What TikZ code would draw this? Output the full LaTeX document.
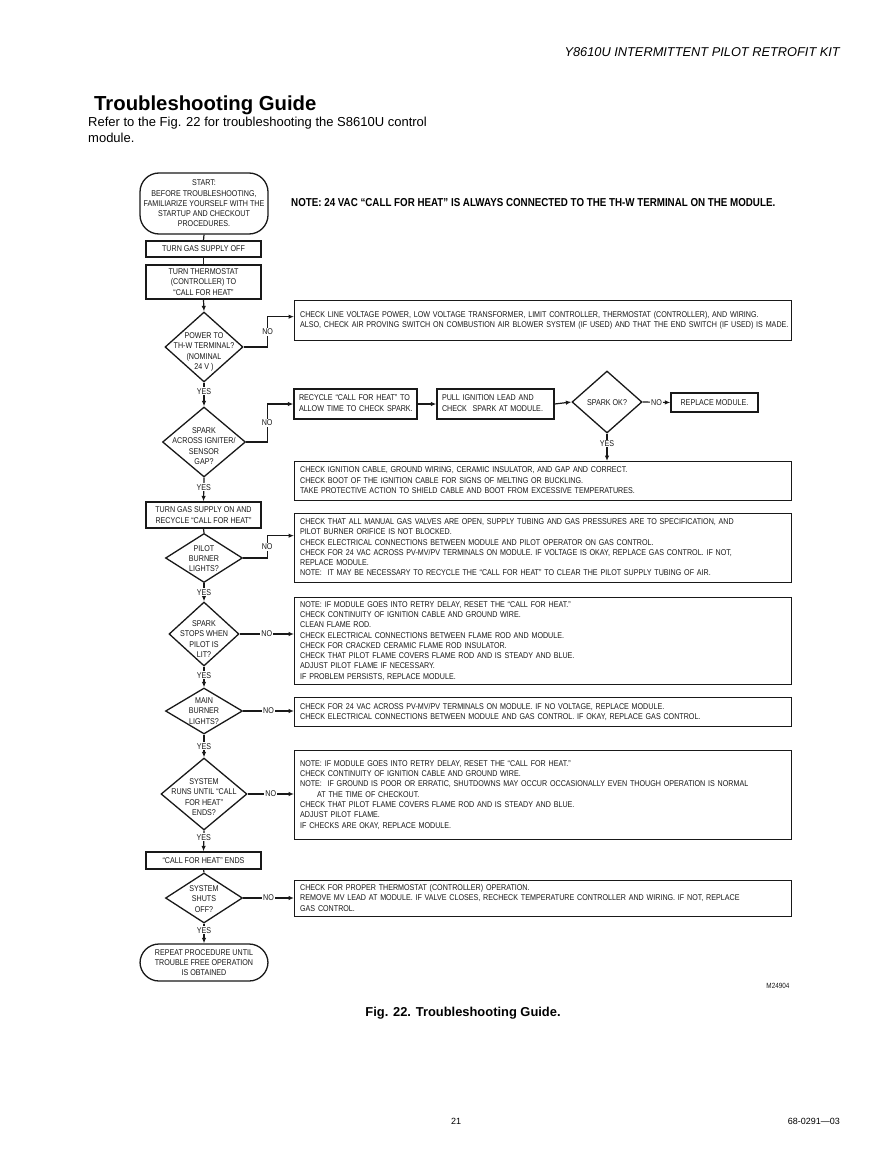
\documentclass[tikz,border=0pt]{standalone}
\usepackage{fontspec}
\setmainfont{Liberation Sans}
\newfontfamily\cond[FakeStretch=0.85]{Liberation Sans}
\usetikzlibrary{shapes.geometric,arrows.meta}
\newcommand\Lines[1]{\begin{tabular}{@{}l@{}}#1\end{tabular}}
\begin{document}
\begin{tikzpicture}[x=1pt,y=-1pt,
  fc/.style={font=\cond\fontsize{8.4}{10.3}\selectfont, text=black!90},
  sbox/.style={draw=black!90, line width=1.3pt, fc, align=center, inner sep=0pt, minimum width=115pt},
  bbox/.style={draw=black!90, line width=1.3pt, fc, text width=486pt, inner xsep=5.5pt, inner ysep=0pt, align=left, anchor=north west},
  dia/.style={draw=black!90, diamond, line width=1.3pt, inner sep=0pt},
  dtext/.style={fc, align=center, inner sep=0pt},
  term/.style={draw=black!90, rounded corners=19pt, line width=1.3pt, fc, align=center, inner sep=0pt, minimum width=128pt},
  arr/.style={draw=black!90, line width=1.2pt, -{Latex[length=5.5pt,width=4.5pt]}},
  ln/.style={draw=black!90, line width=1.2pt},
  lab/.style={fc, fill=white, inner sep=1pt}]
\useasboundingbox[fill=white] (0,0) rectangle (892,1155);

% page texts
\node[anchor=east, inner sep=0pt, font=\itshape\fontsize{12.8}{15}\selectfont] (hdr) at (840,52) {Y8610U INTERMITTENT PILOT RETROFIT KIT};
\node[anchor=west, inner sep=0pt, font=\bfseries\fontsize{20.3}{24}\selectfont] (title) at (94,105) {Troubleshooting Guide};
\node[anchor=north west, align=left, inner sep=0pt, font=\fontsize{13}{16}\selectfont] (intro) at (88,117) {Refer to the Fig. 22 for troubleshooting the S8610U control\\module.};
\node[anchor=west, inner sep=0pt, font=\cond\bfseries\fontsize{11.5}{13}\selectfont] (note) at (291,203) {NOTE: 24 VAC “CALL FOR HEAT” IS ALWAYS CONNECTED TO THE TH-W TERMINAL ON THE MODULE.};

% left column
\node[term, minimum height=61pt] (start) at (204,203.5) {START:\\BEFORE TROUBLESHOOTING,\\FAMILIARIZE YOURSELF WITH THE\\STARTUP AND CHECKOUT\\PROCEDURES.};
\node[sbox, minimum height=16pt] (gasoff) at (203.5,249) {TURN GAS SUPPLY OFF};
\node[sbox, minimum height=34pt] (thermo) at (203.5,282) {TURN THERMOSTAT\\(CONTROLLER) TO\\“CALL FOR HEAT”};

\node[dia, minimum width=78pt, minimum height=70pt] (d1) at (204,347) {};
\node[dtext] (d1t) at (204,352) {POWER TO\\TH-W TERMINAL?\\(NOMINAL\\24 V )};
\node[dia, minimum width=83pt, minimum height=70pt] (d2) at (204,442) {};
\node[dtext] (d2t) at (204,446) {SPARK\\ACROSS IGNITER/\\SENSOR\\GAP?};
\node[sbox, minimum height=26pt] (gason) at (203.5,515) {TURN GAS SUPPLY ON AND\\RECYCLE “CALL FOR HEAT”};
\node[dia, minimum width=77pt, minimum height=49pt] (d4) at (204,558) {};
\node[dtext] (d4t) at (204,558.5) {PILOT\\BURNER\\LIGHTS?};
\node[dia, minimum width=70pt, minimum height=64pt] (d5) at (204,634) {};
\node[dtext] (d5t) at (204,639) {SPARK\\STOPS WHEN\\PILOT IS\\LIT?};
\node[dia, minimum width=77pt, minimum height=46pt] (d6) at (204,711) {};
\node[dtext] (d6t) at (204,711) {MAIN\\BURNER\\LIGHTS?};
\node[dia, minimum width=86pt, minimum height=72pt] (d7) at (204,794) {};
\node[dtext] (d7t) at (204,797) {SYSTEM\\RUNS UNTIL “CALL\\FOR HEAT”\\ENDS?};
\node[sbox, minimum height=17pt] (ends) at (203.5,860.5) {“CALL FOR HEAT” ENDS};
\node[dia, minimum width=77pt, minimum height=50pt] (d8) at (204,898) {};
\node[dtext] (d8t) at (204,899) {SYSTEM\\SHUTS\\OFF?};
\node[term, minimum height=37pt] (repeat) at (204,962.5) {REPEAT PROCEDURE UNTIL\\TROUBLE FREE OPERATION\\IS OBTAINED};

% right boxes
\node[bbox, minimum height=40pt] (b1) at (294,300) {\Lines{CHECK LINE VOLTAGE POWER, LOW VOLTAGE TRANSFORMER, LIMIT CONTROLLER, THERMOSTAT (CONTROLLER), AND WIRING.\\ALSO, CHECK AIR PROVING SWITCH ON COMBUSTION AIR BLOWER SYSTEM (IF USED) AND THAT THE END SWITCH (IF USED) IS MADE.}};
\node[sbox, text width=113pt, align=left, inner xsep=5pt, minimum width=123pt, minimum height=30pt] (recycle) at (355.5,404) {\Lines{RECYCLE “CALL FOR HEAT” TO\\ALLOW TIME TO CHECK SPARK.}};
\node[sbox, text width=107pt, align=left, inner xsep=5pt, minimum width=117pt, minimum height=30pt] (pull) at (495.5,404) {\Lines{PULL IGNITION LEAD AND\\CHECK \ SPARK AT MODULE.}};
\node[dia, minimum width=70pt, minimum height=62pt] (d3) at (607,402) {};
\node[dtext] (d3t) at (607,403) {SPARK OK?};
\node[sbox, minimum width=87pt, minimum height=19pt] (replace) at (714.5,402.5) {REPLACE MODULE.};
\node[bbox, minimum height=39pt] (b2) at (294,461) {\Lines{CHECK IGNITION CABLE, GROUND WIRING, CERAMIC INSULATOR, AND GAP AND CORRECT.\\CHECK BOOT OF THE IGNITION CABLE FOR SIGNS OF MELTING OR BUCKLING.\\TAKE PROTECTIVE ACTION TO SHIELD CABLE AND BOOT FROM EXCESSIVE TEMPERATURES.}};
\node[bbox, minimum height=69pt] (b3) at (294,513) {\Lines{CHECK THAT ALL MANUAL GAS VALVES ARE OPEN, SUPPLY TUBING AND GAS PRESSURES ARE TO SPECIFICATION, AND\\PILOT BURNER ORIFICE IS NOT BLOCKED.\\CHECK ELECTRICAL CONNECTIONS BETWEEN MODULE AND PILOT OPERATOR ON GAS CONTROL.\\CHECK FOR 24 VAC ACROSS PV-MV/PV TERMINALS ON MODULE. IF VOLTAGE IS OKAY, REPLACE GAS CONTROL. IF NOT,\\REPLACE MODULE.\\NOTE: \ IT MAY BE NECESSARY TO RECYCLE THE “CALL FOR HEAT” TO CLEAR THE PILOT SUPPLY TUBING OF AIR.}};
\node[bbox, minimum height=87pt] (b4) at (294,597) {\Lines{NOTE: IF MODULE GOES INTO RETRY DELAY, RESET THE “CALL FOR HEAT.”\\CHECK CONTINUITY OF IGNITION CABLE AND GROUND WIRE.\\CLEAN FLAME ROD.\\CHECK ELECTRICAL CONNECTIONS BETWEEN FLAME ROD AND MODULE.\\CHECK FOR CRACKED CERAMIC FLAME ROD INSULATOR.\\CHECK THAT PILOT FLAME COVERS FLAME ROD AND IS STEADY AND BLUE.\\ADJUST PILOT FLAME IF NECESSARY.\\IF PROBLEM PERSISTS, REPLACE MODULE.}};
\node[bbox, minimum height=29pt] (b5) at (294,697) {\Lines{CHECK FOR 24 VAC ACROSS PV-MV/PV TERMINALS ON MODULE. IF NO VOLTAGE, REPLACE MODULE.\\CHECK ELECTRICAL CONNECTIONS BETWEEN MODULE AND GAS CONTROL. IF OKAY, REPLACE GAS CONTROL.}};
\node[bbox, minimum height=89pt] (b6) at (294,750) {\Lines{NOTE: IF MODULE GOES INTO RETRY DELAY, RESET THE “CALL FOR HEAT.”\\CHECK CONTINUITY OF IGNITION CABLE AND GROUND WIRE.\\NOTE: \ IF GROUND IS POOR OR ERRATIC, SHUTDOWNS MAY OCCUR OCCASIONALLY EVEN THOUGH OPERATION IS NORMAL\\\hspace*{17pt}AT THE TIME OF CHECKOUT.\\CHECK THAT PILOT FLAME COVERS FLAME ROD AND IS STEADY AND BLUE.\\ADJUST PILOT FLAME.\\IF CHECKS ARE OKAY, REPLACE MODULE.}};
\node[bbox, minimum height=36pt] (b7) at (294,880) {\Lines{CHECK FOR PROPER THERMOSTAT (CONTROLLER) OPERATION.\\REMOVE MV LEAD AT MODULE. IF VALVE CLOSES, RECHECK TEMPERATURE CONTROLLER AND WIRING. IF NOT, REPLACE\\GAS CONTROL.}};

% connectors
\draw[ln] (start.south) -- (gasoff.north);
\draw[ln] (gasoff.south) -- (thermo.north);
\draw[arr] (thermo.south) -- (d1.north);
\draw[arr] (d1.south) -- node[lab,pos=.36]{YES} (d2.north);
\draw[arr] (d2.south) -- node[lab,pos=.4]{YES} (gason.north);
\draw[ln] (gason.south) -- (d4.north);
\draw[arr] (d4.south) -- node[lab,pos=.5]{YES} (d5.north);
\draw[arr] (d5.south) -- node[lab,pos=.41]{YES} (d6.north);
\draw[arr] (d6.south) -- node[lab,pos=.52]{YES} (d7.north);
\draw[arr] (d7.south) -- node[lab,pos=.32]{YES} (ends.north);
\draw[ln] (ends.south) -- (d8.north);
\draw[arr] (d8.south) -- node[lab,pos=.33]{YES} (repeat.north);

\draw[arr] (d1.east) -- ++(24,0) |- node[lab,pos=.25]{NO} ([yshift=4pt]b1.west);
\draw[arr] (d2.east) -- ++(21,0) |- node[lab,pos=.25]{NO} (recycle.west);
\draw[arr] (d4.east) -- ++(24,0) |- node[lab,pos=.25]{NO} ([yshift=12.5pt]b3.west);
\draw[arr] (d5.east) -- node[lab]{NO} (d5.east -| b4.west);
\draw[arr] (d6.east) -- node[lab]{NO} (d6.east -| b5.west);
\draw[arr] (d7.east) -- node[lab]{NO} (d7.east -| b6.west);
\draw[arr] (d8.east) -- node[lab]{NO} (d8.east -| b7.west);

\draw[arr] (recycle.east) -- (pull.west);
\draw[arr] (pull.east) -- (d3.west);
\draw[arr] (d3.east) -- node[lab]{NO} (replace.west);
\draw[arr] (d3.south) -- node[lab,pos=.36]{YES} (d3.south |- b2.north);

% captions
\node[fc, inner sep=0pt, font=\cond\fontsize{7.5}{9}\selectfont] (mnum) at (778,986) {M24904};
\node[inner sep=0pt, font=\bfseries\fontsize{12.9}{15}\selectfont] (cap) at (463,1013) {Fig. 22. Troubleshooting Guide.};
\node[inner sep=0pt, font=\fontsize{9}{11}\selectfont] (pg) at (456,1121) {21};
\node[anchor=east, inner sep=0pt, font=\fontsize{9}{11}\selectfont] (docno) at (840,1121) {68-0291—03};
\end{tikzpicture}
\end{document}
